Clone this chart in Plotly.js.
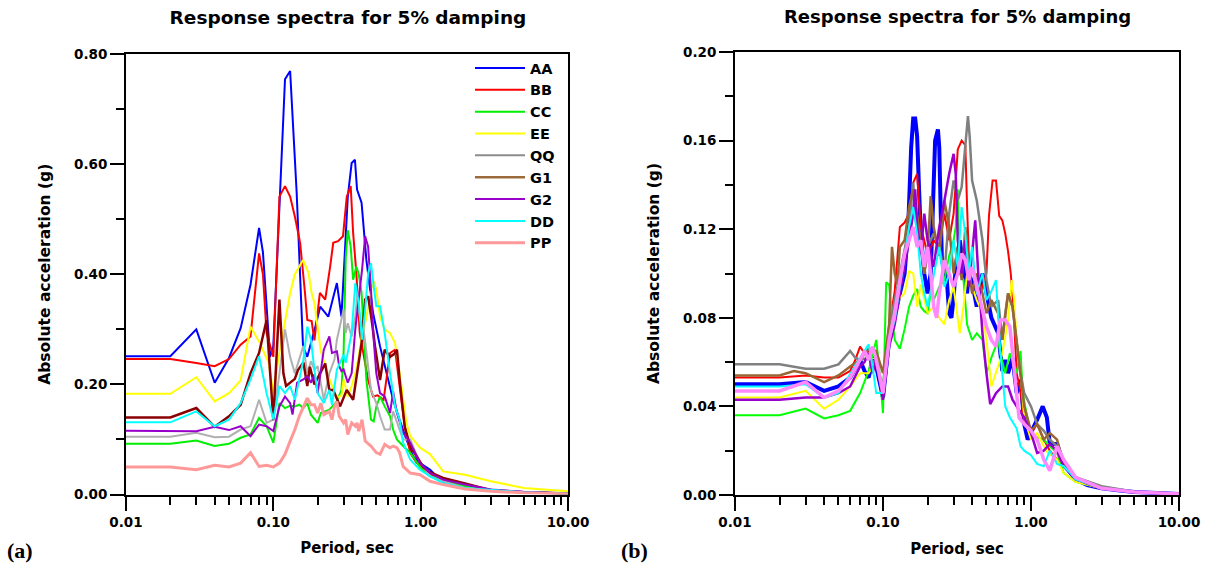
<!DOCTYPE html>
<html>
<head>
<meta charset="utf-8">
<script src="https://cdn.plot.ly/plotly-3.0.1.min.js"></script>
<style>html,body{margin:0;padding:0;background:#fff;}#chart{width:1207px;height:566px;}</style>
</head>
<body>
<div id="chart"></div>
<script>
// ---------- Panel (a) data ----------
const seriesNames = ["AA","BB","CC","EE","QQ","G1","G2","DD","PP"];

const perA_AA = [0.01,0.02,0.03,0.04,0.05,0.06,0.07,0.08,0.085,0.095,0.1,0.12,0.13,0.144,0.159,0.17,0.193,0.208,0.236,0.27,0.29,0.32,0.34,0.358,0.37,0.397,0.428,0.475,0.53,0.59,0.65,0.72,0.80,0.89,0.99,1.16,1.42,2.0,3.0,5.0,10.0];
const accA_AA = [0.251,0.251,0.300,0.203,0.248,0.302,0.381,0.484,0.440,0.250,0.269,0.754,0.769,0.548,0.269,0.250,0.305,0.341,0.323,0.384,0.323,0.540,0.602,0.608,0.554,0.530,0.426,0.330,0.269,0.220,0.172,0.135,0.100,0.069,0.057,0.045,0.021,0.014,0.007,0.004,0.002];

const perA_BB = [0.01,0.02,0.03,0.04,0.05,0.06,0.07,0.08,0.085,0.09,0.1,0.11,0.12,0.13,0.14,0.152,0.164,0.17,0.182,0.19,0.207,0.225,0.243,0.255,0.275,0.297,0.315,0.335,0.348,0.366,0.386,0.405,0.44,0.475,0.51,0.56,0.62,0.67,0.72,0.78,0.85,0.94,1.04,1.2,1.5,2.0,3.0,5.0,10.0];
const accA_BB = [0.246,0.246,0.239,0.233,0.246,0.272,0.287,0.438,0.400,0.293,0.250,0.541,0.560,0.541,0.505,0.457,0.366,0.317,0.315,0.280,0.366,0.354,0.414,0.457,0.460,0.469,0.541,0.560,0.475,0.402,0.293,0.263,0.208,0.178,0.180,0.172,0.257,0.263,0.196,0.123,0.075,0.057,0.050,0.035,0.025,0.015,0.008,0.004,0.002];

const perA_CC = [0.01,0.02,0.03,0.04,0.05,0.06,0.07,0.08,0.09,0.1,0.11,0.12,0.13,0.14,0.15,0.16,0.17,0.18,0.2,0.21,0.24,0.27,0.29,0.30,0.31,0.32,0.335,0.348,0.366,0.38,0.397,0.428,0.46,0.48,0.50,0.53,0.57,0.62,0.65,0.69,0.76,0.85,0.99,1.16,1.42,2.0,3.0,5.0,10.0];
const accA_CC = [0.092,0.092,0.098,0.088,0.092,0.103,0.109,0.139,0.124,0.094,0.166,0.157,0.161,0.160,0.163,0.157,0.166,0.145,0.130,0.148,0.154,0.169,0.190,0.260,0.430,0.480,0.450,0.390,0.414,0.400,0.366,0.208,0.136,0.133,0.160,0.178,0.160,0.142,0.118,0.100,0.088,0.076,0.050,0.033,0.027,0.015,0.008,0.004,0.002];

const perA_EE = [0.01,0.02,0.03,0.04,0.05,0.06,0.07,0.081,0.093,0.1,0.108,0.12,0.13,0.14,0.159,0.173,0.182,0.19,0.2,0.21,0.24,0.27,0.29,0.30,0.32,0.34,0.36,0.38,0.40,0.43,0.46,0.48,0.50,0.53,0.57,0.62,0.67,0.72,0.80,0.85,0.99,1.16,1.42,2.0,3.0,5.0,10.0];
const accA_EE = [0.183,0.183,0.213,0.169,0.184,0.207,0.305,0.275,0.239,0.184,0.245,0.317,0.366,0.400,0.426,0.403,0.366,0.348,0.300,0.260,0.210,0.175,0.180,0.209,0.178,0.197,0.220,0.251,0.293,0.323,0.372,0.387,0.372,0.323,0.300,0.293,0.275,0.220,0.130,0.106,0.085,0.073,0.042,0.036,0.024,0.012,0.006];

const perA_QQ = [0.01,0.02,0.03,0.04,0.05,0.06,0.07,0.08,0.09,0.1,0.11,0.12,0.13,0.14,0.16,0.17,0.18,0.19,0.2,0.22,0.24,0.26,0.27,0.28,0.30,0.31,0.32,0.34,0.36,0.37,0.39,0.41,0.43,0.46,0.50,0.53,0.57,0.62,0.65,0.69,0.76,0.85,0.99,1.16,1.42,2.0,3.0,5.0,10.0];
const accA_QQ = [0.105,0.105,0.112,0.104,0.105,0.118,0.124,0.172,0.130,0.136,0.220,0.300,0.250,0.220,0.270,0.220,0.242,0.227,0.233,0.172,0.220,0.245,0.281,0.300,0.336,0.293,0.311,0.287,0.323,0.360,0.317,0.300,0.257,0.190,0.166,0.142,0.118,0.118,0.151,0.130,0.100,0.100,0.057,0.033,0.024,0.012,0.008,0.004,0.002];

const perA_G1 = [0.01,0.02,0.03,0.04,0.05,0.06,0.07,0.08,0.09,0.1,0.11,0.117,0.122,0.14,0.147,0.16,0.17,0.177,0.19,0.207,0.225,0.24,0.255,0.284,0.315,0.348,0.366,0.397,0.42,0.44,0.465,0.49,0.53,0.57,0.62,0.66,0.69,0.72,0.78,0.85,0.94,1.04,1.16,1.42,2.0,3.0,5.0,10.0];
const accA_G1 = [0.140,0.140,0.157,0.123,0.142,0.163,0.220,0.257,0.317,0.135,0.354,0.220,0.197,0.210,0.226,0.240,0.197,0.232,0.200,0.220,0.238,0.190,0.190,0.160,0.190,0.172,0.214,0.275,0.354,0.360,0.317,0.269,0.208,0.263,0.250,0.255,0.263,0.208,0.123,0.087,0.069,0.050,0.040,0.030,0.020,0.008,0.004,0.002];

const perA_G2 = [0.01,0.02,0.03,0.04,0.05,0.06,0.07,0.08,0.09,0.1,0.11,0.12,0.13,0.135,0.145,0.16,0.17,0.18,0.19,0.2,0.21,0.22,0.24,0.25,0.27,0.28,0.29,0.30,0.32,0.34,0.36,0.38,0.40,0.42,0.44,0.46,0.48,0.50,0.53,0.57,0.62,0.65,0.69,0.76,0.85,0.99,1.16,1.42,2.0,3.0,5.0,10.0];
const accA_G2 = [0.116,0.116,0.115,0.123,0.117,0.124,0.106,0.127,0.124,0.115,0.160,0.178,0.166,0.145,0.203,0.209,0.215,0.203,0.218,0.184,0.227,0.263,0.287,0.257,0.260,0.233,0.224,0.227,0.203,0.220,0.300,0.354,0.408,0.469,0.450,0.372,0.281,0.220,0.184,0.178,0.148,0.187,0.148,0.112,0.094,0.057,0.039,0.027,0.018,0.009,0.005,0.002];

const perA_DD = [0.01,0.02,0.03,0.04,0.05,0.06,0.07,0.08,0.09,0.1,0.11,0.12,0.13,0.14,0.15,0.16,0.17,0.18,0.19,0.2,0.22,0.24,0.25,0.27,0.29,0.30,0.31,0.32,0.34,0.36,0.38,0.40,0.42,0.44,0.46,0.48,0.50,0.53,0.57,0.62,0.67,0.72,0.76,0.85,0.99,1.16,1.42,2.0,3.0,5.0,10.0];
const accA_DD = [0.131,0.131,0.151,0.124,0.136,0.166,0.209,0.251,0.184,0.136,0.197,0.184,0.197,0.172,0.209,0.245,0.305,0.281,0.227,0.184,0.166,0.190,0.163,0.227,0.245,0.254,0.239,0.260,0.293,0.384,0.348,0.281,0.336,0.402,0.420,0.378,0.342,0.342,0.293,0.220,0.160,0.136,0.094,0.063,0.045,0.033,0.021,0.012,0.008,0.004,0.002];

const perA_PP = [0.01,0.02,0.03,0.04,0.05,0.06,0.07,0.08,0.09,0.1,0.11,0.12,0.13,0.14,0.15,0.16,0.17,0.18,0.19,0.2,0.21,0.22,0.24,0.25,0.26,0.27,0.28,0.30,0.31,0.32,0.34,0.36,0.37,0.38,0.40,0.42,0.46,0.50,0.53,0.57,0.62,0.65,0.69,0.72,0.76,0.85,0.99,1.16,1.42,2.0,3.0,5.0,10.0];
const accA_PP = [0.050,0.050,0.045,0.053,0.050,0.057,0.076,0.051,0.053,0.050,0.057,0.073,0.097,0.118,0.142,0.160,0.175,0.163,0.163,0.148,0.166,0.145,0.151,0.136,0.160,0.169,0.142,0.130,0.136,0.109,0.130,0.124,0.130,0.115,0.136,0.097,0.088,0.076,0.073,0.091,0.085,0.088,0.085,0.076,0.051,0.039,0.036,0.024,0.018,0.010,0.006,0.003,0.001];

// ---------- Panel (b) data ----------
const perB_AA = [0.01,0.02,0.03,0.04,0.05,0.06,0.07,0.075,0.08,0.085,0.09,0.1,0.11,0.12,0.13,0.14,0.148,0.155,0.16,0.165,0.17,0.175,0.18,0.19,0.20,0.21,0.22,0.225,0.235,0.24,0.245,0.25,0.27,0.28,0.29,0.30,0.31,0.33,0.35,0.37,0.38,0.40,0.43,0.47,0.50,0.54,0.60,0.64,0.67,0.70,0.75,0.80,0.85,0.90,0.95,1.0,1.1,1.2,1.28,1.34,1.5,1.66,1.84,2.0,2.4,3.0,4.0,5.0,10.0];
const accB_AA = [0.050,0.050,0.051,0.047,0.049,0.053,0.061,0.056,0.053,0.061,0.058,0.044,0.070,0.080,0.091,0.100,0.121,0.157,0.170,0.170,0.162,0.139,0.118,0.100,0.091,0.100,0.142,0.160,0.165,0.157,0.130,0.106,0.097,0.082,0.080,0.089,0.103,0.115,0.103,0.091,0.100,0.096,0.085,0.100,0.091,0.080,0.073,0.056,0.061,0.055,0.062,0.046,0.052,0.032,0.025,0.028,0.034,0.040,0.035,0.023,0.023,0.014,0.010,0.007,0.0045,0.003,0.002,0.0014,0.0005];

const perB_BB = [0.01,0.02,0.03,0.04,0.05,0.06,0.065,0.07,0.075,0.08,0.09,0.1,0.11,0.12,0.13,0.14,0.15,0.16,0.17,0.175,0.18,0.19,0.2,0.22,0.24,0.26,0.28,0.30,0.32,0.34,0.36,0.37,0.38,0.40,0.43,0.46,0.50,0.52,0.55,0.58,0.61,0.64,0.67,0.70,0.73,0.76,0.80,0.85,0.90,1.0,1.1,1.22,1.34,1.5,1.66,2.0,3.0,5.0,10.0];
const accB_BB = [0.053,0.053,0.054,0.053,0.053,0.056,0.061,0.067,0.064,0.065,0.061,0.047,0.076,0.092,0.121,0.123,0.127,0.141,0.145,0.133,0.121,0.115,0.108,0.115,0.112,0.127,0.115,0.127,0.156,0.160,0.158,0.130,0.108,0.091,0.100,0.092,0.100,0.126,0.142,0.142,0.126,0.124,0.118,0.110,0.100,0.085,0.055,0.047,0.032,0.028,0.032,0.025,0.020,0.016,0.014,0.007,0.003,0.0014,0.0005];

const perB_CC = [0.01,0.02,0.03,0.04,0.05,0.06,0.07,0.08,0.09,0.095,0.1,0.105,0.11,0.115,0.12,0.13,0.14,0.15,0.16,0.17,0.18,0.19,0.2,0.21,0.22,0.24,0.26,0.28,0.30,0.31,0.32,0.33,0.35,0.37,0.40,0.43,0.47,0.50,0.54,0.60,0.62,0.67,0.72,0.80,0.85,0.88,0.95,1.0,1.1,1.22,1.34,1.5,1.66,2.0,3.0,5.0,10.0];
const accB_CC = [0.036,0.036,0.039,0.0346,0.036,0.038,0.046,0.056,0.070,0.055,0.037,0.096,0.095,0.080,0.070,0.066,0.075,0.085,0.090,0.093,0.085,0.083,0.082,0.091,0.088,0.094,0.097,0.108,0.115,0.121,0.138,0.100,0.097,0.077,0.070,0.073,0.070,0.055,0.062,0.070,0.064,0.055,0.064,0.055,0.065,0.046,0.034,0.028,0.026,0.025,0.022,0.019,0.010,0.006,0.003,0.0014,0.0005];

const perB_EE = [0.01,0.02,0.03,0.04,0.05,0.06,0.07,0.08,0.085,0.09,0.1,0.11,0.12,0.13,0.14,0.15,0.16,0.17,0.18,0.19,0.2,0.22,0.24,0.26,0.28,0.30,0.33,0.35,0.37,0.40,0.43,0.47,0.50,0.54,0.60,0.64,0.70,0.74,0.77,0.80,0.85,0.90,1.0,1.1,1.22,1.3,1.5,1.66,2.0,3.0,5.0,10.0];
const accB_EE = [0.044,0.044,0.047,0.039,0.043,0.049,0.055,0.055,0.058,0.061,0.049,0.074,0.083,0.089,0.091,0.101,0.100,0.085,0.095,0.088,0.082,0.085,0.080,0.077,0.088,0.094,0.073,0.085,0.100,0.094,0.088,0.082,0.070,0.049,0.058,0.064,0.079,0.097,0.088,0.070,0.055,0.035,0.025,0.028,0.022,0.019,0.016,0.010,0.006,0.003,0.0014,0.0005];

const perB_QQ = [0.01,0.02,0.03,0.04,0.05,0.06,0.065,0.07,0.08,0.09,0.1,0.11,0.12,0.13,0.14,0.15,0.16,0.165,0.17,0.18,0.19,0.2,0.22,0.24,0.26,0.28,0.30,0.32,0.34,0.36,0.375,0.385,0.40,0.43,0.47,0.50,0.54,0.60,0.64,0.67,0.70,0.75,0.80,0.85,0.90,1.0,1.1,1.22,1.34,1.5,1.66,2.0,3.0,5.0,10.0];
const accB_QQ = [0.059,0.059,0.057,0.057,0.059,0.065,0.062,0.061,0.062,0.059,0.049,0.076,0.088,0.100,0.112,0.121,0.141,0.127,0.121,0.112,0.100,0.112,0.118,0.112,0.100,0.127,0.142,0.133,0.139,0.160,0.171,0.162,0.142,0.133,0.115,0.097,0.085,0.088,0.070,0.082,0.091,0.085,0.070,0.055,0.046,0.040,0.032,0.029,0.025,0.022,0.016,0.008,0.004,0.0015,0.0005];

const perB_G1 = [0.01,0.02,0.025,0.03,0.04,0.05,0.06,0.07,0.08,0.09,0.1,0.11,0.115,0.12,0.125,0.13,0.14,0.15,0.16,0.17,0.18,0.19,0.2,0.21,0.22,0.24,0.26,0.28,0.30,0.32,0.34,0.36,0.38,0.40,0.43,0.47,0.50,0.54,0.60,0.64,0.70,0.75,0.80,0.85,0.90,1.0,1.1,1.22,1.34,1.5,1.66,2.0,2.4,3.0,5.0,10.0];
const accB_G1 = [0.054,0.054,0.056,0.055,0.051,0.054,0.058,0.061,0.066,0.065,0.055,0.077,0.112,0.100,0.095,0.112,0.115,0.130,0.138,0.126,0.115,0.100,0.109,0.135,0.121,0.108,0.133,0.121,0.100,0.112,0.097,0.121,0.103,0.091,0.100,0.091,0.082,0.088,0.082,0.070,0.091,0.085,0.070,0.055,0.040,0.029,0.032,0.025,0.028,0.025,0.014,0.008,0.005,0.003,0.0014,0.0007];

const perB_G2 = [0.01,0.02,0.03,0.04,0.05,0.06,0.07,0.075,0.08,0.085,0.09,0.1,0.11,0.12,0.13,0.14,0.15,0.16,0.165,0.17,0.18,0.19,0.2,0.22,0.24,0.26,0.28,0.30,0.31,0.32,0.34,0.36,0.38,0.40,0.42,0.44,0.47,0.50,0.53,0.58,0.64,0.70,0.75,0.80,0.90,1.0,1.1,1.22,1.34,1.5,1.66,2.0,3.0,5.0,10.0];
const accB_G2 = [0.043,0.043,0.044,0.044,0.046,0.049,0.058,0.060,0.064,0.055,0.061,0.043,0.067,0.077,0.091,0.103,0.115,0.127,0.138,0.121,0.109,0.127,0.115,0.103,0.121,0.133,0.145,0.154,0.145,0.115,0.100,0.115,0.094,0.109,0.124,0.100,0.073,0.055,0.041,0.046,0.049,0.049,0.043,0.040,0.035,0.028,0.019,0.020,0.023,0.020,0.013,0.007,0.003,0.0014,0.0005];

const perB_DD = [0.01,0.02,0.03,0.04,0.05,0.06,0.07,0.08,0.085,0.09,0.1,0.11,0.12,0.13,0.14,0.15,0.16,0.17,0.18,0.19,0.2,0.22,0.24,0.26,0.28,0.30,0.32,0.34,0.36,0.38,0.40,0.43,0.47,0.50,0.54,0.58,0.62,0.67,0.72,0.80,0.85,0.90,1.0,1.1,1.22,1.34,1.5,1.66,1.84,2.0,3.0,5.0,10.0];
const accB_DD = [0.049,0.049,0.050,0.044,0.046,0.055,0.062,0.068,0.058,0.046,0.046,0.070,0.079,0.094,0.109,0.121,0.130,0.118,0.100,0.091,0.085,0.100,0.112,0.094,0.100,0.115,0.103,0.130,0.118,0.100,0.112,0.091,0.100,0.088,0.092,0.097,0.065,0.040,0.035,0.030,0.022,0.020,0.018,0.014,0.013,0.020,0.014,0.013,0.010,0.007,0.003,0.0014,0.0005];

const perB_PP = [0.01,0.02,0.03,0.04,0.05,0.06,0.07,0.075,0.08,0.085,0.09,0.1,0.11,0.12,0.13,0.14,0.15,0.16,0.17,0.18,0.19,0.2,0.21,0.22,0.23,0.24,0.26,0.28,0.30,0.32,0.34,0.36,0.38,0.40,0.43,0.47,0.50,0.54,0.58,0.62,0.67,0.72,0.77,0.83,0.90,1.0,1.1,1.22,1.34,1.5,1.66,2.0,3.0,5.0,10.0];
const accB_PP = [0.047,0.047,0.051,0.044,0.047,0.053,0.061,0.065,0.061,0.067,0.061,0.046,0.070,0.082,0.097,0.109,0.115,0.121,0.112,0.115,0.103,0.112,0.100,0.085,0.080,0.091,0.106,0.100,0.094,0.100,0.109,0.106,0.097,0.103,0.094,0.082,0.076,0.070,0.067,0.079,0.079,0.076,0.055,0.035,0.032,0.029,0.025,0.016,0.011,0.022,0.016,0.008,0.003,0.0014,0.0005];

// tick labels
const xTickVals = [0.01, 0.1, 1, 10];
const xTickText = ["0.01", "0.10", "1.00", "10.00"];
const yTickValsA = [0, 0.2, 0.4, 0.6, 0.8];
const yTickTextA = ["0.00", "0.20", "0.40", "0.60", "0.80"];
const yTickValsB = [0, 0.04, 0.08, 0.12, 0.16, 0.20];
const yTickTextB = ["0.00", "0.04", "0.08", "0.12", "0.16", "0.20"];

// ---------- styling ----------
const colorsA = {AA:"#0000FF", BB:"#FF0000", CC:"#00EE00", EE:"#FFFF00", QQ:"#B0B0B0", G1:"#8B0000", G2:"#9900CC", DD:"#00FFFF", PP:"#FF9999"};
const legendColorsA = {AA:"#0000FF", BB:"#FF0000", CC:"#00EE00", EE:"#FFFF00", QQ:"#8C8C8C", G1:"#9C6B3C", G2:"#9900CC", DD:"#00FFFF", PP:"#FF9999"};
const widthsA = {AA:2, BB:2, CC:2, EE:2, QQ:2, G1:2.5, G2:2, DD:2, PP:3};
const colorsB = {AA:"#0000FF", BB:"#FF0000", CC:"#00FF00", EE:"#FFFF00", QQ:"#808080", G1:"#996633", G2:"#9900CC", DD:"#00FFFF", PP:"#FF88FF"};
const widthsB = {AA:4, BB:2, CC:2, EE:2, QQ:2.5, G1:2.5, G2:2.5, DD:2, PP:3.5};

const dataA = {AA:[perA_AA,accA_AA], BB:[perA_BB,accA_BB], CC:[perA_CC,accA_CC], EE:[perA_EE,accA_EE], QQ:[perA_QQ,accA_QQ], G1:[perA_G1,accA_G1], G2:[perA_G2,accA_G2], DD:[perA_DD,accA_DD], PP:[perA_PP,accA_PP]};
const dataB = {AA:[perB_AA,accB_AA], BB:[perB_BB,accB_BB], CC:[perB_CC,accB_CC], EE:[perB_EE,accB_EE], QQ:[perB_QQ,accB_QQ], G1:[perB_G1,accB_G1], G2:[perB_G2,accB_G2], DD:[perB_DD,accB_DD], PP:[perB_PP,accB_PP]};

const traces = [];
seriesNames.forEach(n => {
  const sameLegend = colorsA[n] === legendColorsA[n];
  traces.push({type:"scatter", mode:"lines", name:n, x:dataA[n][0], y:dataA[n][1], xaxis:"x", yaxis:"y",
    line:{color:colorsA[n], width:widthsA[n]}, showlegend:sameLegend, legendgroup:n, hoverinfo:"skip"});
  if (!sameLegend) {
    traces.push({type:"scatter", mode:"lines", name:n, x:[null], y:[null], xaxis:"x", yaxis:"y",
      line:{color:legendColorsA[n], width:widthsA[n]}, showlegend:true, legendgroup:n, hoverinfo:"skip"});
  }
});
seriesNames.forEach(n => {
  traces.push({type:"scatter", mode:"lines", name:n, x:dataB[n][0], y:dataB[n][1], xaxis:"x2", yaxis:"y2",
    line:{color:colorsB[n], width:widthsB[n]}, showlegend:false, hoverinfo:"skip"});
});

// minor log ticks
const minorX = [];
[0.01, 0.1, 1].forEach(d => { for (let k = 2; k <= 9; k++) minorX.push(+(d * k).toPrecision(3)); });

const W = 1207, H = 566;
const FONT = "DejaVu Sans, Arial, sans-serif";
function xAxis(domain, anchor) {
  return {type:"log", range:[-2, 1], domain:domain, anchor:anchor,
    tickmode:"array", tickvals:xTickVals, ticktext:xTickText,
    ticks:"outside", ticklen:14, tickwidth:2, tickcolor:"#000",
    minor:{tickmode:"array", tickvals:minorX, ticks:"outside", ticklen:8, tickwidth:2, tickcolor:"#000", showgrid:false},
    showline:true, linewidth:2, linecolor:"#000", mirror:true, showgrid:false, zeroline:false,
    tickfont:{family:FONT, size:13.5, weight:"bold", color:"#000"},
    title:{text:"Period, sec", font:{family:FONT, size:15, weight:"bold", color:"#000"}, standoff:14}};
}
function yAxis(domain, anchor, vals, text, minorVals, range) {
  return {range:range, domain:domain, anchor:anchor,
    tickmode:"array", tickvals:vals, ticktext:text,
    ticks:"outside", ticklen:14, tickwidth:2, tickcolor:"#000",
    minor:{tickmode:"array", tickvals:minorVals, ticks:"outside", ticklen:8, tickwidth:2, tickcolor:"#000", showgrid:false},
    showline:true, linewidth:2, linecolor:"#000", mirror:true, showgrid:false, zeroline:false,
    tickfont:{family:FONT, size:13.5, weight:"bold", color:"#000"},
    title:{text:"Absolute acceleration (g)", font:{family:FONT, size:15.5, weight:"bold", color:"#000"}, standoff:20}};
}

const layout = {
  width:W, height:H, margin:{l:0, r:0, t:0, b:0},
  paper_bgcolor:"#fff", plot_bgcolor:"#fff",
  font:{family:FONT, color:"#000"},
  title:{text:"Response spectra for 5% damping", x:348/W, xanchor:"center", xref:"paper",
    y:1 - 18/H, yanchor:"middle", yref:"paper", font:{family:FONT, size:18.5, weight:"bold", color:"#000"}},
  xaxis: xAxis([126/W, 568/W], "y"),
  yaxis: yAxis([1 - 494.5/H, 1 - 54/H], "x", yTickValsA, yTickTextA, [0.1, 0.3, 0.5, 0.7], [0, 0.8]),
  xaxis2: xAxis([735/W, 1179/W], "y2"),
  yaxis2: yAxis([1 - 495/H, 1 - 52/H], "x2", yTickValsB, yTickTextB, [0.02, 0.06, 0.10, 0.14, 0.18], [0, 0.2]),
  showlegend:true,
  legend:{x:470/W, y:1 - 52/H, xanchor:"left", yanchor:"top", bgcolor:"rgba(0,0,0,0)", borderwidth:0,
    font:{family:FONT, size:14.5, weight:"bold", color:"#000"}, itemwidth:50, tracegroupgap:0, traceorder:"normal"},
  annotations:[
    {text:"Response spectra for 5% damping", xref:"paper", yref:"paper", x:957/W, y:1 - 17/H,
     xanchor:"center", yanchor:"middle", showarrow:false, font:{family:FONT, size:18, weight:"bold", color:"#000"}},
    {text:"(a)", xref:"paper", yref:"paper", x:20/W, y:1 - 550/H, xanchor:"center", yanchor:"middle",
     showarrow:false, font:{family:"Liberation Serif, Times New Roman, serif", size:22, weight:"bold", color:"#000"}},
    {text:"(b)", xref:"paper", yref:"paper", x:634/W, y:1 - 550/H, xanchor:"center", yanchor:"middle",
     showarrow:false, font:{family:"Liberation Serif, Times New Roman, serif", size:22, weight:"bold", color:"#000"}}
  ]
};

Plotly.newPlot("chart", traces, layout, {displayModeBar:false, staticPlot:true});
</script>
</body>
</html>
